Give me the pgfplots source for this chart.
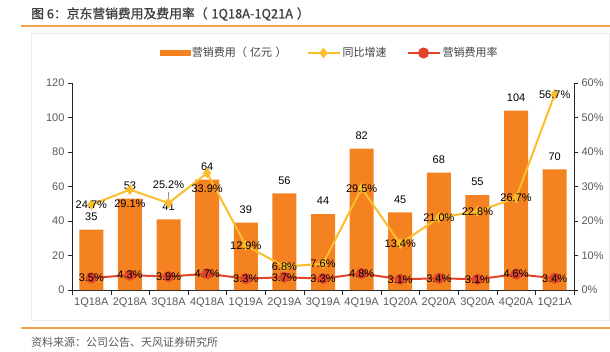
\documentclass[border=0pt]{standalone}
\usepackage{pgfplots}
\pgfplotsset{compat=1.18}
\usepackage{pgfplotstable}
\usepackage{fontspec}
\setmainfont{Liberation Sans}
\newfontfamily\cjk{Noto Sans CJK SC}
\newfontfamily\cjkb{Noto Sans CJK SC}[FakeBold=1]
\definecolor{barorange}{RGB}{245,130,32}
\definecolor{gold}{RGB}{250,190,45}
\definecolor{redl}{RGB}{226,68,40}
\definecolor{ticktext}{RGB}{89,89,89}
\definecolor{titletext}{RGB}{64,64,64}
\definecolor{rulec}{RGB}{242,160,80}
\pgfplotsset{
  linelegend/.style={legend image code/.code={\draw[mark repeat=2,mark phase=2,##1] plot coordinates {(0pt,0pt) (16pt,0pt) (32pt,0pt)};}},
  barlegend/.style={legend image code/.code={\fill[barorange] (0pt,-2.5pt) rectangle (30pt,2.5pt);}},
}

\pgfplotstableread{
x cost
0 35
1 53
2 41
3 64
4 39
5 56
6 44
7 82
8 45
9 68
10 55
11 104
12 70
}\costdata

\pgfplotstableread{
x g dy
0 24.7 0
1 29.1 -14
2 25.2 18
3 33.9 -16
4 12.9 0
5 6.8 0
6 7.6 0
7 29.5 0
8 13.4 0
9 21.0 0
10 22.8 0
11 26.7 0
12 56.7 0
}\growthdata

\pgfplotstableread{
x r
0 3.5
1 4.3
2 3.9
3 4.7
4 3.3
5 3.7
6 3.3
7 4.8
8 3.1
9 3.4
10 3.1
11 4.6
12 3.4
}\ratedata

\begin{document}
\begin{tikzpicture}
\path[use as bounding box] (0,0) rectangle (610pt,-351pt);
\draw[black!8, line width=0.6pt] (31pt,-33pt) rectangle (609pt,-320pt);
\node[anchor=west, inner sep=0pt, text=titletext, font=\cjkb\fontsize{12.8}{14}\selectfont] at (31pt,-14pt) {图 6：京东营销费用及费用率（\hspace{0.3em}1Q18A-1Q21A\hspace{0.3em}）};
\draw[rulec, line width=1.2pt] (21pt,-26pt) -- (610pt,-26pt);
\draw[rulec, line width=1.2pt] (21pt,-328pt) -- (610pt,-328pt);
\node[anchor=west, inner sep=0pt, text=ticktext, font=\cjk\fontsize{11}{13}\selectfont] at (31pt,-342pt) {资料来源：公司公告、天风证券研究所};

\begin{axis}[
  at={(72pt,-290pt)}, anchor=south west,
  scale only axis, width=502pt, height=207pt,
  xmin=-0.5, xmax=12.5, ymin=0, ymax=120,
  ytick={0,20,...,120},
  axis y line*=left, axis x line*=bottom,
  axis line style={black!85},
  xtick={0,...,12},
  xticklabels={1Q18A,2Q18A,3Q18A,4Q18A,1Q19A,2Q19A,3Q19A,4Q19A,1Q20A,2Q20A,3Q20A,4Q20A,1Q21A},
  major x tick style={draw=none},
  minor xtick={-0.5,0.5,...,12.5},
  minor x tick style={black!85},
  y tick style={black!85},
  tick align=outside, major tick length=4pt, minor tick length=5pt,
  tick label style={font=\fontsize{11}{13}\selectfont, text=ticktext},
  /pgf/number format/assume math mode=true,
  clip=false,
]
\addplot[ybar, bar width=24pt, fill=barorange, draw=none,
  nodes near coords,
  every node near coord/.append style={anchor=center, yshift=13pt, font=\fontsize{11}{13}\selectfont, text=black}]
  table[x=x, y=cost] {\costdata};
\end{axis}

\begin{axis}[
  at={(72pt,-290pt)}, anchor=south west,
  scale only axis, width=502pt, height=207pt,
  xmin=-0.5, xmax=12.5, ymin=0, ymax=60,
  ytick={0,10,...,60},
  yticklabel={\pgfmathprintnumber{\tick}\%},
  axis y line*=right, axis x line=none,
  axis line style={black!85},
  y tick style={black!85},
  tick align=outside, major tick length=4pt,
  tick label style={font=\fontsize{11}{13}\selectfont, text=ticktext},
  /pgf/number format/assume math mode=true,
  clip=false,
  legend columns=3,
  legend style={at={(0.168,1.145)}, anchor=west, draw=none, fill=none,
    font=\cjk\fontsize{11}{13}\selectfont, text=titletext,
    /tikz/every even column/.append style={column sep=18pt}},
]
\addlegendimage{barlegend}
\addlegendentry{营销费用（\hspace{0.3em}亿元\hspace{0.3em}）}
\addlegendimage{gold, line width=2pt, mark=diamond*, mark size=3.8pt, linelegend}
\addlegendentry{同比增速}
\addlegendimage{redl, line width=2pt, mark=*, mark size=4.5pt, linelegend}
\addlegendentry{营销费用率}

\draw[black!45, line width=0.6pt] (axis cs:2,28.4) -- (axis cs:2,25.9);

\addplot[forget plot, gold, line width=2pt, mark=diamond*, mark size=3.8pt,
  point meta=\thisrow{g},
  nodes near coords={\pgfmathprintnumber[fixed,fixed zerofill,precision=1]{\pgfplotspointmeta}\%},
  visualization depends on={\thisrow{dy} \as \dy},
  every node near coord/.append style={anchor=center, yshift=\dy*1pt, font=\fontsize{11}{13}\selectfont, text=black}]
  table[x=x, y=g] {\growthdata};

\addplot[forget plot, redl, line width=2pt, mark=*, mark size=4.5pt,
  point meta=\thisrow{r},
  nodes near coords={\pgfmathprintnumber[fixed,fixed zerofill,precision=1]{\pgfplotspointmeta}\%},
  every node near coord/.append style={anchor=center, font=\fontsize{11}{13}\selectfont, text=black}]
  table[x=x, y=r] {\ratedata};
\end{axis}
\end{tikzpicture}
\end{document}
